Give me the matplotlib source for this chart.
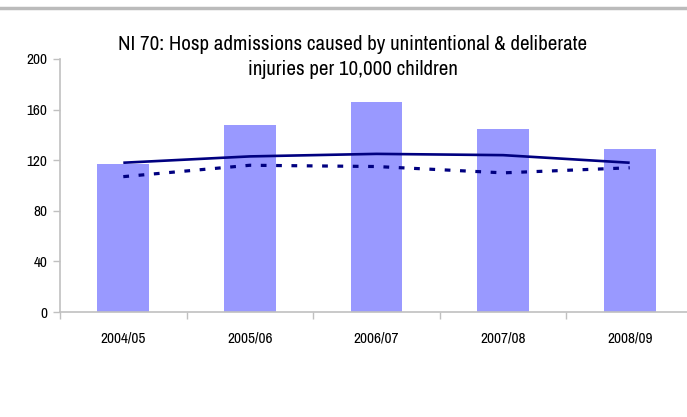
import matplotlib
matplotlib.use("Agg")
import matplotlib.pyplot as plt
from matplotlib.lines import Line2D
import numpy as np

categories = ["2004/05", "2005/06", "2006/07", "2007/08", "2008/09"]
bar_values = [117, 148, 166, 145, 129]
solid_values = [118, 123, 125, 124, 118]
dashed_values = [107, 116, 115, 110, 114]
y_ticks = [0, 40, 80, 120, 160, 200]
title = "NI 70: Hosp admissions caused by unintentional & deliberate\ninjuries per 10,000 children"

plt.rcParams['font.family'] = ['Archivo Narrow', 'Roboto Condensed', 'DejaVu Sans']

W, H = 687, 417
fig = plt.figure(figsize=(W / 100, H / 100), dpi=100)
ax = fig.add_axes([60 / W, 1 - 312 / H, (693 - 60) / W, (312 - 59) / H])

x = np.arange(len(categories))
ax.bar(x, bar_values, width=0.41, color="#9999FF", zorder=2)
ax.plot(x, solid_values, color="#000080", lw=1.9, zorder=3, solid_capstyle="butt")
ax.plot(x, dashed_values, color="#000080", lw=2.3, linestyle=(0, (1.8, 3.0)), zorder=3,
        dash_capstyle="butt")

ax.set_xlim(-0.5, len(categories) - 0.5)
ax.set_ylim(0, 200)
ax.set_yticks(y_ticks)
ax.set_yticklabels([str(v) for v in y_ticks], fontsize=11)
ax.set_xticks(x)
ax.set_xticklabels(categories, fontsize=11)
ax.tick_params(axis="x", which="major", length=0, pad=14)
ax.set_xticks(np.arange(-0.5, len(categories) - 0.5, 1.0), minor=True)
ax.tick_params(axis="x", which="minor", length=5, color="#c0c0c0", width=1)
ax.tick_params(axis="y", length=5, color="#c0c0c0", width=1, pad=4)

for s in ["top", "right"]:
    ax.spines[s].set_visible(False)
for s in ["left", "bottom"]:
    ax.spines[s].set_color("#c0c0c0")
    ax.spines[s].set_linewidth(1.2)

fig.text(353 / W, 1 - 57 / H, title, ha="center", va="center", fontsize=15.1,
         linespacing=1.35)

fig.add_artist(Line2D([0, 1], [1 - 8 / H, 1 - 8 / H], transform=fig.transFigure,
                      color="#bbbbbb", lw=2.5))

fig.savefig("out.png", dpi=100)
